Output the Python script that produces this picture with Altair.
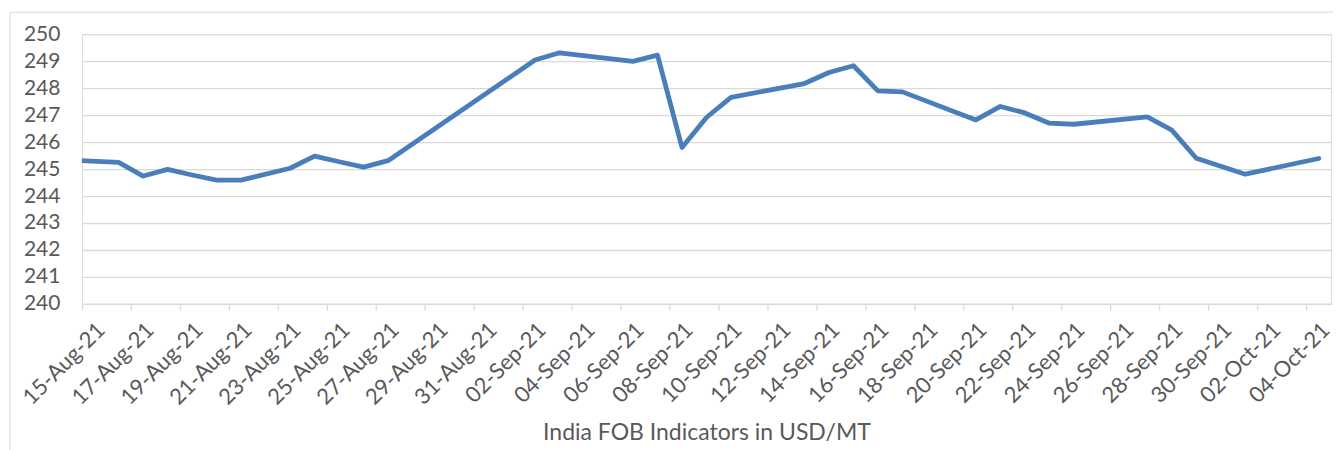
import altair as alt
import pandas as pd

# Data (India FOB indicators, USD/MT)
dates = ["2021-08-14", "2021-08-16", "2021-08-17", "2021-08-18", "2021-08-19",
         "2021-08-20", "2021-08-21", "2021-08-23", "2021-08-24", "2021-08-25",
         "2021-08-26", "2021-08-27", "2021-09-02", "2021-09-03", "2021-09-06",
         "2021-09-07", "2021-09-08", "2021-09-09", "2021-09-10", "2021-09-13",
         "2021-09-14", "2021-09-15", "2021-09-16", "2021-09-17", "2021-09-20",
         "2021-09-21", "2021-09-22", "2021-09-23", "2021-09-24", "2021-09-27",
         "2021-09-28", "2021-09-29", "2021-10-01", "2021-10-04"]
values = [245.33, 245.25, 244.74, 244.99, 244.78,
          244.59, 244.59, 245.03, 245.48, 245.27,
          245.07, 245.31, 249.04, 249.31, 248.99,
          249.22, 245.80, 246.91, 247.66, 248.17,
          248.58, 248.83, 247.90, 247.86, 246.82,
          247.32, 247.08, 246.70, 246.66, 246.93,
          246.44, 245.40, 244.81, 245.39]

tick_dates = ["2021-08-15", "2021-08-17", "2021-08-19", "2021-08-21", "2021-08-23",
              "2021-08-25", "2021-08-27", "2021-08-29", "2021-08-31", "2021-09-02",
              "2021-09-04", "2021-09-06", "2021-09-08", "2021-09-10", "2021-09-12",
              "2021-09-14", "2021-09-16", "2021-09-18", "2021-09-20", "2021-09-22",
              "2021-09-24", "2021-09-26", "2021-09-28", "2021-09-30", "2021-10-02",
              "2021-10-04"]
y_ticks = [240, 241, 242, 243, 244, 245, 246, 247, 248, 249, 250]
x_domain = ["2021-08-15", "2021-10-05"]
title_text = "India FOB Indicators in USD/MT"

FONT = "Lato"
GRID = "#d9d9d9"
TEXT = "#595959"
BLUE = "#4a7ebb"


def dt(s):
    t = pd.Timestamp(s)
    return alt.DateTime(year=t.year, month=t.month, date=t.day)


df = pd.DataFrame({
    "date": pd.to_datetime(dates) + pd.Timedelta(hours=12),
    "value": values,
})

line = alt.Chart(df).mark_line(
    color=BLUE, strokeWidth=4.8, strokeJoin="round", strokeCap="round", clip=True
).encode(
    x=alt.X("date:T",
            scale=alt.Scale(domain=[dt(d) for d in x_domain]),
            axis=alt.Axis(
                values=[dt(d) for d in tick_dates],
                format="%d-%b-%y",
                labelAngle=-45,
                labelAlign="right",
                labelBaseline="middle",
                labelOffset=19,
                labelPadding=16,
                labelFont=FONT,
                labelFontSize=22,
                labelColor=TEXT,
                labelOverlap=False,
                labelFlush=False,
                grid=False,
                domainColor=GRID,
                domainWidth=1.3,
                tickColor=GRID,
                tickWidth=1.3,
                tickSize=6,
                title=title_text,
                titleFont=FONT,
                titleFontSize=23,
                titleFontWeight="normal",
                titleColor=TEXT,
                titlePadding=13,
            )),
    y=alt.Y("value:Q",
            scale=alt.Scale(domain=[240, 250], nice=False, zero=False),
            axis=alt.Axis(
                values=y_ticks,
                format="d",
                labelFont=FONT,
                labelFontSize=21,
                labelColor=TEXT,
                labelPadding=22,
                ticks=False,
                domain=False,
                grid=True,
                gridColor=GRID,
                gridWidth=1.3,
                title=None,
            )),
)

border = alt.Chart(pd.DataFrame({"a": [0]})).mark_rect(
    filled=False, stroke=GRID, strokeWidth=1
).encode(
    x=alt.value(-72), x2=alt.value(1300),
    y=alt.value(-22), y2=alt.value(450),
)

chart = alt.layer(border, line).properties(
    width=1250,
    height=270,
    padding={"left": 74, "top": 26, "right": 2, "bottom": 146},
    autosize=alt.AutoSizeParams(type="none"),
).configure_view(stroke=None).configure(background="white")

chart.save("out.html", embed_options={"renderer": "svg", "actions": False})
